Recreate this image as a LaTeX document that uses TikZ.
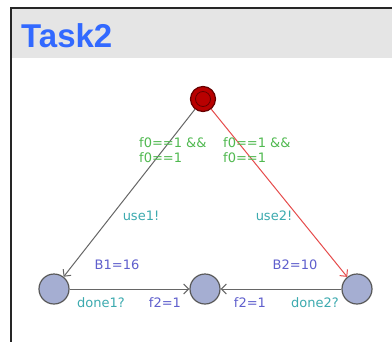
\documentclass[tikz,border=0pt]{standalone}
\usepackage{fontspec}
\setmainfont{DejaVu Sans}
\newfontfamily\titlefont{Liberation Sans}
\usetikzlibrary{arrows.meta}

\definecolor{locblue}{RGB}{165,174,210}
\definecolor{initred}{RGB}{185,0,0}
\definecolor{guardgreen}{RGB}{80,185,80}
\definecolor{syncteal}{RGB}{60,170,175}
\definecolor{assignblue}{RGB}{95,95,205}
\definecolor{titleblue}{RGB}{50,105,255}
\definecolor{headgray}{RGB}{229,229,229}
\definecolor{edgered}{RGB}{230,75,75}

\begin{document}
\begin{tikzpicture}[x=1pt,y=-1pt,
  loc/.style={circle,draw=black!65,line width=1.2pt,fill=locblue,minimum size=30pt,inner sep=0pt},
  init/.style={circle,draw=initred!55!black,line width=1.2pt,fill=initred,minimum size=25pt,inner sep=0pt},
  lbl/.style={font=\fontsize{13}{15}\selectfont,inner sep=0pt},
  guard/.style={lbl,text=guardgreen,align=left,anchor=west},
  sync/.style={lbl,text=syncteal},
  assign/.style={lbl,text=assignblue},
  trans/.style={draw=black!60,line width=1pt,-{Straight Barb[length=5pt,width=10pt]}}
]
  \clip (0,0) rectangle (392,341);
  % Frame and header
  \fill[white] (0,0) rectangle (392,341);
  \fill[headgray] (11,8) rectangle (400,58);
  \draw[black!85,line width=2.5pt] (11,350) -- (11,8) -- (400,8);
  \node[anchor=west,inner sep=0pt,text=titleblue,font=\titlefont\bfseries\fontsize{33}{35}\selectfont] (title) at (21,36) {Task2};
  % Locations
  \node[init] (start) at (203,99) {};
  \draw[initred!55!black,line width=0.8pt] (start.center) circle (7.5);
  \node[loc] (left) at (54,289) {};
  \node[loc] (mid) at (205,289) {};
  \node[loc] (right) at (357,289) {};
  % Edges
  \draw[trans] (start) -- (left);
  \draw[trans,draw=edgered] (start) -- (right);
  \draw[trans] (left) -- (mid);
  \draw[trans] (right) -- (mid);
  % Labels
  \node[guard] (g1) at (139,150) {f0==1 \&\&\\f0==1};
  \node[guard] (g2) at (223,150) {f0==1 \&\&\\f0==1};
  \node[sync] (s1) at (141,216) {use1!};
  \node[sync] (s2) at (274,216) {use2!};
  \node[assign] (a1) at (117,265) {B1=16};
  \node[assign] (a2) at (295,265) {B2=10};
  \node[sync] (s3) at (101,303) {done1?};
  \node[assign] (a3) at (165,303) {f2=1};
  \node[assign] (a4) at (250,303) {f2=1};
  \node[sync] (s4) at (315,303) {done2?};
\end{tikzpicture}
\end{document}
